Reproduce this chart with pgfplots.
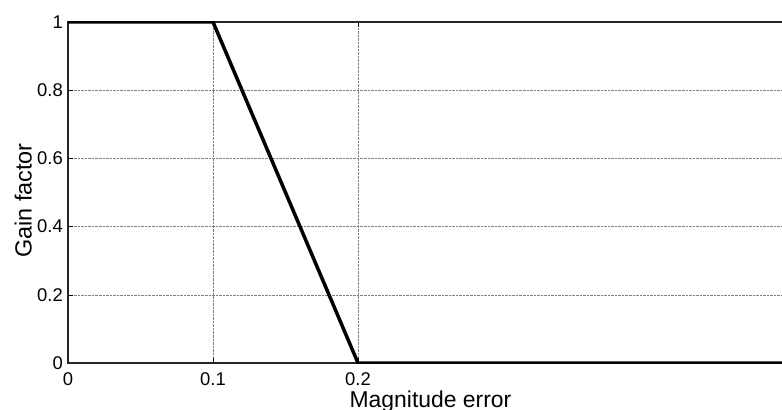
\documentclass[border=0pt]{standalone}
\usepackage{fontspec}
\setmainfont{Liberation Sans}
\usepackage{pgfplots}
\pgfplotsset{compat=1.18}
\begin{document}
\begin{tikzpicture}
\begin{axis}[
  at={(0,0)}, anchor=south west,
  scale only axis, width=725bp, height=341bp,
  xmin=0, xmax=0.5, ymin=0, ymax=1,
  xtick={0,0.1,0.2}, xticklabels={0,0.1,0.2},
  ytick={0,0.2,0.4,0.6,0.8,1}, yticklabels={0,0.2,0.4,0.6,0.8,1},
  tick align=inside, major tick length=5bp,
  tick style={black, line width=0.6bp},
  grid=major,
  major grid style={densely dotted, black!50, line width=0.6bp},
  axis line style={black!85, line width=1.4bp},
  xticklabel style={font=\fontsize{18.5}{20}\selectfont, anchor=base, inner sep=0pt, yshift=-22bp},
  yticklabel style={font=\fontsize{18.5}{20}\selectfont, anchor=east, inner sep=0pt, xshift=-5bp},
  xlabel={Magnitude error},
  ylabel={Gain factor},
  xlabel style={font=\fontsize{23}{25}\selectfont, at={(axis description cs:0.5,0)}, anchor=base, inner sep=0pt, yshift=-44bp},
  ylabel style={font=\fontsize{23.5}{25}\selectfont, at={(axis description cs:0,0.5)}, anchor=south, inner sep=0pt, yshift=36bp, xshift=-8bp},
]
\addplot[black, line width=3.5bp, line join=round] coordinates {(0,1) (0.1,1) (0.2,0) (0.5,0)};
\end{axis}
\pgfresetboundingbox
\useasboundingbox (-68bp,-47bp) rectangle (714bp,363bp);
\end{tikzpicture}
\end{document}
